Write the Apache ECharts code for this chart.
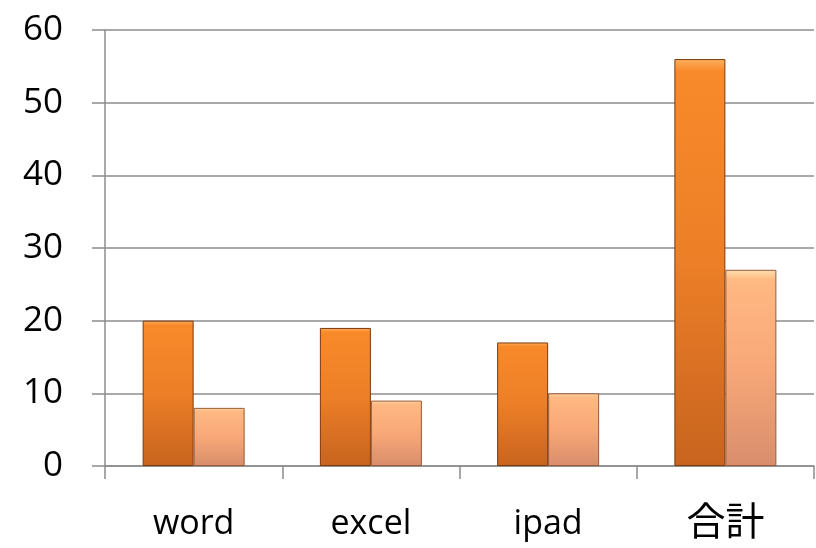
<!DOCTYPE html>
<html><head><meta charset="utf-8">
<script src="https://cdn.jsdelivr.net/npm/echarts@6/dist/echarts.min.js"></script>
<style>html,body{margin:0;padding:0;background:#fff}#c{width:816px;height:548px}</style>
</head><body><div id="c"></div>
<script>
const categories = ['word', 'excel', 'ipad', '合計'];
const series1 = [20, 19, 17, 56];
const series2 = [8, 9, 10, 27];
const yTicks = {min: 0, max: 60, interval: 10};

const chart = echarts.init(document.getElementById('c'));
const font = '"Open Sans", Lato, "Noto Sans CJK JP", sans-serif';
const catData = categories.map(c => /[^\x00-\x7f]/.test(c)
  ? {value: c, textStyle: {fontSize: 39, lineHeight: 26, fontFamily: '"Noto Sans CJK JP", sans-serif'}} : c);
chart.setOption({
  animation: false,
  grid: {left: 105, right: 2, top: 30, bottom: 82},
  xAxis: {
    type: 'category', data: catData,
    axisLine: {lineStyle: {color: '#8c8c8c', width: 1.5}},
    axisTick: {show: true, length: 13, lineStyle: {color: '#8c8c8c', width: 1.5}},
    axisLabel: {color: '#000', fontSize: 34, fontFamily: font, margin: 41}
  },
  yAxis: {
    type: 'value', min: yTicks.min, max: yTicks.max, interval: yTicks.interval,
    axisLine: {show: true, lineStyle: {color: '#8c8c8c', width: 1.5}},
    axisTick: {show: true, length: 13, lineStyle: {color: '#8c8c8c', width: 1.5}},
    splitLine: {lineStyle: {color: '#8c8c8c', width: 1.5}},
    axisLabel: {color: '#000', fontSize: 35, fontFamily: font, margin: 42}
  },
  series: [
    {type: 'bar', data: series1, barWidth: 51, barGap: '0%',
     itemStyle: {
       borderColor: '#7a3a0e', borderWidth: 1,
       color: {type: 'linear', x: 0, y: 0, x2: 0, y2: 1, colorStops: [
         {offset: 0, color: '#FDB060'}, {offset: 0.03, color: '#F98A2A'},
         {offset: 0.5, color: '#EC7F27'}, {offset: 1, color: '#C8641F'}]}
     }},
    {type: 'bar', data: series2, barWidth: 51,
     itemStyle: {
       borderColor: '#9a5a38', borderWidth: 1,
       color: {type: 'linear', x: 0, y: 0, x2: 0, y2: 1, colorStops: [
         {offset: 0, color: '#FFE0B0'}, {offset: 0.05, color: '#FFB982'},
         {offset: 0.5, color: '#F8A878'}, {offset: 1, color: '#D88E6C'}]}
     }}
  ]
});
</script></body></html>
